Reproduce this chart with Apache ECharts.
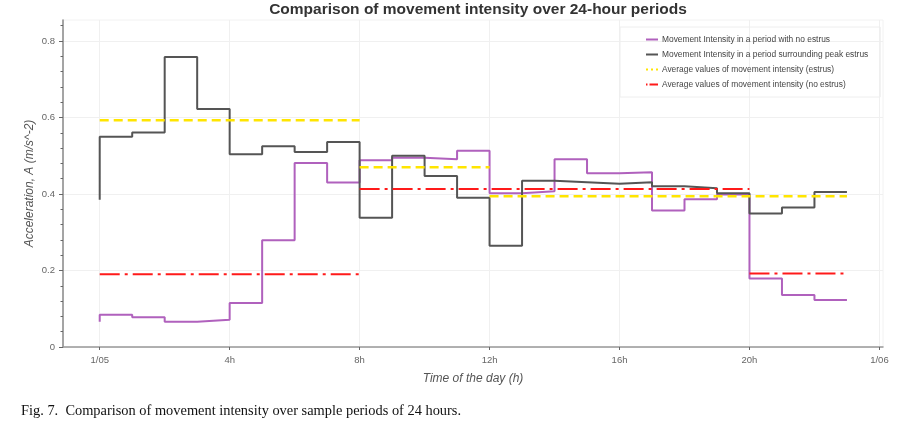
<!DOCTYPE html>
<html><head><meta charset="utf-8">
<script src="https://cdn.jsdelivr.net/npm/echarts@6/dist/echarts.min.js"></script>
<style>html,body{margin:0;padding:0;background:#fff}#c{width:903px;height:431px}</style>
</head><body><div id="c"></div>
<script>
// hour positions of step points (first value is the starting stub)
const hours = [0,1,2,3,4,5,6,7,8,9,10,11,12,13,14,15,16,17,18,19,20,21,22,23];
const noEstrus = [0.066,0.084,0.078,0.066,0.071,0.115,0.279,0.481,0.430,0.488,0.495,0.491,0.513,0.402,0.407,0.491,0.454,0.457,0.357,0.386,0.399,0.179,0.136,0.123];
const peakEstrus = [0.385,0.550,0.561,0.758,0.622,0.504,0.525,0.510,0.536,0.338,0.500,0.447,0.390,0.265,0.435,0.431,0.427,0.431,0.420,0.415,0.402,0.349,0.365,0.405];
const estrusAvgStart = [0, 8, 12];
const estrusAvgEnd = [8, 12, 23];
const estrusAvgVal = [0.593, 0.470, 0.394];
const noEstrusAvgStart = [0, 8, 20];
const noEstrusAvgEnd = [8, 20, 23];
const noEstrusAvgVal = [0.190, 0.413, 0.192];
const xTickValues = [0, 4, 8, 12, 16, 20, 24];
const xTickLabels = ['1/05', '4h', '8h', '12h', '16h', '20h', '1/06'];
const yTickValues = [0, 0.2, 0.4, 0.6, 0.8];
const yMinorTicks = [0.04,0.08,0.12,0.16,0.24,0.28,0.32,0.36,0.44,0.48,0.52,0.56,0.64,0.68,0.72,0.76,0.84];
const names = [
  'Movement Intensity in a period with no estrus',
  'Movement Intensity in a period surrounding peak estrus',
  'Average values of movement intensity (estrus)',
  'Average values of movement intensity (no estrus)'
];

const FONT = '"Liberation Sans", Arial, sans-serif';
const COLORS = ['#b061bd', '#555555', '#ffe500', '#ff1a1a'];
// legend icons (12 x 2 boxes)
const ICONS = [
  'path://M0,0h12v2h-12z',
  'path://M0,0h12v2h-12z',
  'path://M0,0h2v2h-2z M5,0h2v2h-2z M10,0h2v2h-2z',
  'path://M0,0h1.5v2h-1.5z M3.5,0h8.5v2h-8.5z'
];
const chart = echarts.init(document.getElementById('c'), null, {renderer: 'canvas'});

function segSeries(name, starts, ends, vals, color, dash, width, z) {
  return starts.map((s, i) => ({
    name: name, type: 'line', symbol: 'none', z: z,
    data: [[s, vals[i]], [ends[i], vals[i]]],
    lineStyle: {color: color, width: width, type: dash},
    itemStyle: {color: color},
    emphasis: {disabled: true}, animation: false
  }));
}

const series = [
  {name: names[0], type: 'line', step: 'start', symbol: 'none', z: 2,
   data: hours.map((h, i) => [h, noEstrus[i]]),
   lineStyle: {color: COLORS[0], width: 2}, itemStyle: {color: COLORS[0]}, animation: false},
  {name: names[1], type: 'line', step: 'start', symbol: 'none', z: 3,
   data: hours.map((h, i) => [h, peakEstrus[i]]),
   lineStyle: {color: COLORS[1], width: 2}, itemStyle: {color: COLORS[1]}, animation: false},
  ...segSeries(names[2], estrusAvgStart, estrusAvgEnd, estrusAvgVal, COLORS[2], [9, 5], 2.5, 4),
  ...segSeries(names[3], noEstrusAvgStart, noEstrusAvgEnd, noEstrusAvgVal, COLORS[3], [20, 5, 3, 5], 2, 5)
];

chart.setOption({
  animation: false,
  backgroundColor: '#fff',
  title: {
    text: 'Comparison of movement intensity over 24-hour periods',
    left: 473, textAlign: 'center', top: -3,
    textStyle: {fontFamily: FONT, fontSize: 15.5, fontWeight: 'bold', color: '#333'}
  },
  legend: {
    data: names.map((n, i) => ({name: n, icon: ICONS[i], itemStyle: {color: COLORS[i]}})),
    orient: 'vertical', left: 620, top: 27,
    itemWidth: 12, itemHeight: 2, itemGap: 6,
    padding: [8, 12, 8, 26],
    borderColor: '#eeeeee', borderWidth: 1,
    textStyle: {fontFamily: FONT, fontSize: 8.4, lineHeight: 9, color: '#444', padding: [0, 0, 0, -1]}
  },
  grid: {left: 63, right: 20, top: 20, bottom: 84, show: true, borderColor: '#f2f2f2', borderWidth: 1},
  xAxis: {
    type: 'value', min: -1.13, max: 24.11,
    name: 'Time of the day (h)', nameLocation: 'middle', nameGap: 26,
    nameTextStyle: {fontFamily: FONT, fontSize: 12, fontStyle: 'italic', color: '#555'},
    axisLine: {show: true, onZero: false, lineStyle: {color: '#999', width: 1.5}},
    axisTick: {show: true, customValues: xTickValues, length: 3, lineStyle: {color: '#666'}},
    axisLabel: {customValues: xTickValues, margin: 8, fontFamily: FONT, fontSize: 9.5, color: '#666',
      formatter: v => xTickLabels[xTickValues.indexOf(v)]},
    splitLine: {show: true, lineStyle: {color: '#f0f0f0', width: 1}}
  },
  yAxis: [{
    type: 'value', min: 0, max: 0.855,
    name: 'Acceleration, A (m/s^-2)', nameLocation: 'middle', nameGap: 27, nameMoveOverlap: false,
    nameTextStyle: {fontFamily: FONT, fontSize: 12, fontStyle: 'italic', color: '#555'},
    axisLine: {show: true, onZero: false, lineStyle: {color: '#888', width: 1.5}},
    axisTick: {show: true, customValues: yTickValues, length: 4, lineStyle: {color: '#666'}},
    axisLabel: {customValues: yTickValues, margin: 8, fontFamily: FONT, fontSize: 9.5, color: '#666',
      formatter: v => v === 0 ? '0' : v.toFixed(1)},
    splitLine: {show: true, lineStyle: {color: '#f0f0f0', width: 1}}
  }, {
    type: 'value', min: 0, max: 0.855, position: 'left',
    axisLine: {show: false, onZero: false},
    axisTick: {show: true, customValues: yMinorTicks, length: 2.5, lineStyle: {color: '#666'}},
    axisLabel: {show: false},
    splitLine: {show: false}
  }],
  series: series,
  graphic: [{
    type: 'text', left: 21, top: 404,
    style: {text: 'Fig. 7.  Comparison of movement intensity over sample periods of 24 hours.',
      font: '14.4px "Liberation Serif", "Times New Roman", serif', fill: '#111'}
  }]
});
</script></body></html>
